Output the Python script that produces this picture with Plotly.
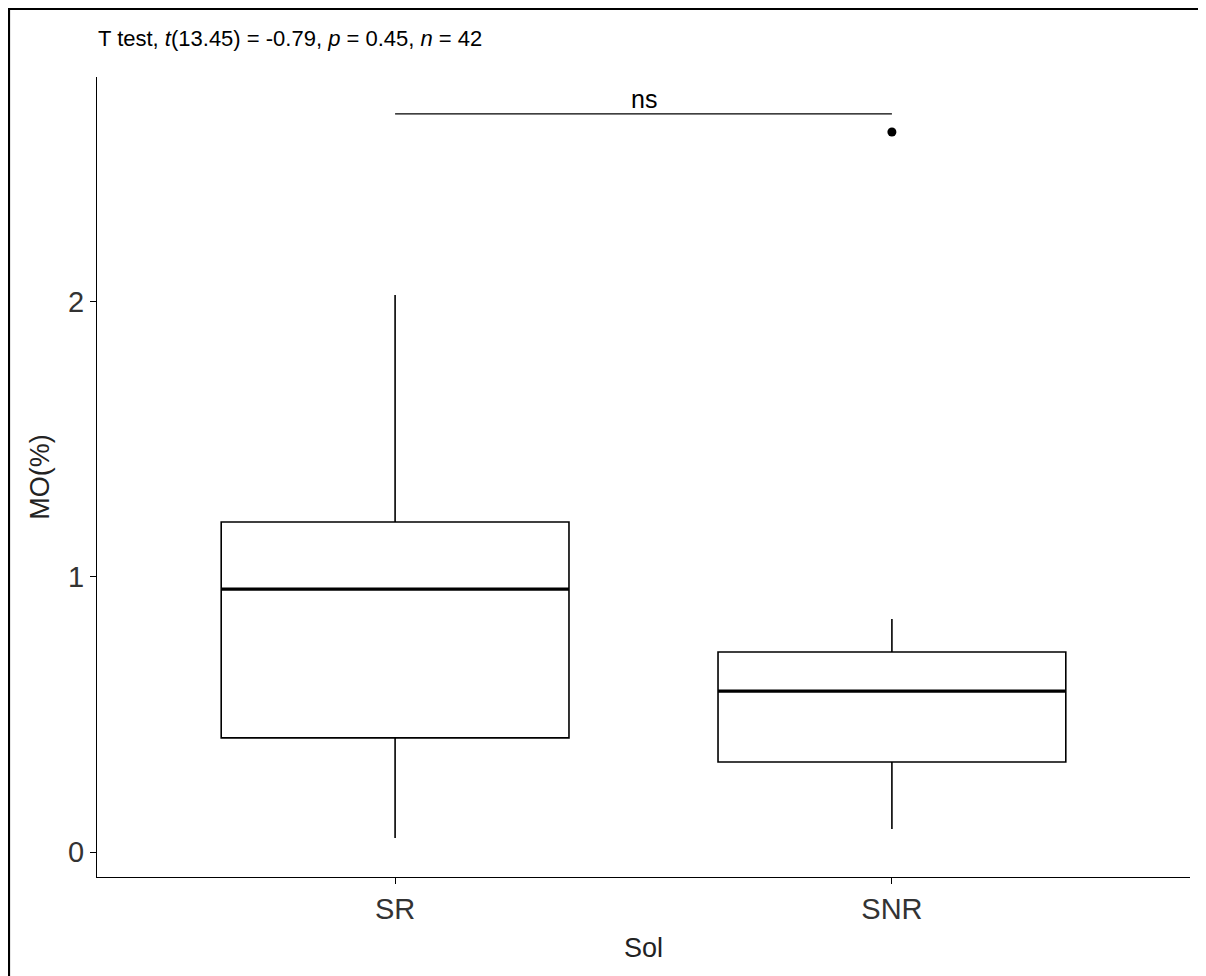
import plotly.graph_objects as go

# Data
groups = ["SR", "SNR"]
group_pos = [0, 1]
lower_whisker = [0.051, 0.084]
q1 = [0.415, 0.327]
median = [0.956, 0.585]
q3 = [1.20, 0.727]
upper_whisker = [2.025, 0.847]
outlier_group = [1]
outlier_values = [2.618]
bracket_y = 2.684
bracket_label = "ns"
subtitle = "T test, <i>t</i>(13.45) = -0.79, <i>p</i> = 0.45, <i>n</i> = 42"
y_ticks = [0, 1, 2]

BOX_W = 0.7
FONT = "Liberation Sans, Arial, sans-serif"

# page has an 8px body margin, so the figure is a bit smaller than the window
FW, FH = 1198, 968
L, R, T, B = 89, 16, 69, 99
PW, PH = FW - L - R, FH - T - B
OFF = 8
def px(xp):
    return (xp - OFF - L) / PW
def py(yp):
    return (FH - B - (yp - OFF)) / PH

fig = go.Figure()

for i, g in enumerate(groups):
    fig.add_trace(go.Box(
        x=[group_pos[i]], q1=[q1[i]], median=[median[i]], q3=[q3[i]],
        lowerfence=[lower_whisker[i]], upperfence=[upper_whisker[i]],
        width=BOX_W, whiskerwidth=0, boxpoints=False,
        fillcolor="white", line=dict(color="black", width=1.6),
        name=g, showlegend=False, hoverinfo="skip",
    ))
    # thicker median line like ggplot
    fig.add_trace(go.Scatter(
        x=[group_pos[i] - BOX_W / 2, group_pos[i] + BOX_W / 2],
        y=[median[i], median[i]], mode="lines",
        line=dict(color="black", width=3.2), showlegend=False, hoverinfo="skip",
    ))

fig.add_trace(go.Scatter(
    x=outlier_group, y=outlier_values, mode="markers",
    marker=dict(color="black", size=9), showlegend=False, hoverinfo="skip",
))

# significance bracket
fig.add_trace(go.Scatter(
    x=[group_pos[0], group_pos[1]], y=[bracket_y, bracket_y], mode="lines",
    line=dict(color="black", width=1.3), showlegend=False, hoverinfo="skip",
))
fig.add_annotation(
    x=(group_pos[0] + group_pos[1]) / 2, y=bracket_y, text=bracket_label,
    showarrow=False, yanchor="bottom", yshift=-1,
    font=dict(family=FONT, size=25, color="black"),
)

# subtitle
fig.add_annotation(
    xref="paper", yref="paper", x=px(96), y=py(39), xanchor="left", yanchor="middle",
    text=subtitle, showarrow=False,
    font=dict(family=FONT, size=22, color="black"),
)

# outer frame (left + top border of the image)
fig.add_shape(type="line", xref="paper", yref="paper",
              x0=px(9), x1=px(9), y0=py(8), y1=py(990),
              line=dict(color="black", width=2.2))
fig.add_shape(type="line", xref="paper", yref="paper",
              x0=px(8), x1=px(1220), y0=py(9), y1=py(9),
              line=dict(color="black", width=2.2))

fig.update_layout(
    width=FW, height=FH,
    margin=dict(l=L, r=R, t=T, b=B),
    paper_bgcolor="white", plot_bgcolor="white",
    font=dict(family=FONT, color="black"),
    xaxis=dict(
        range=[-0.6, 1.6], tickvals=group_pos, ticktext=groups,
        showline=True, linecolor="black", linewidth=1.3,
        ticks="outside", ticklen=6, tickcolor="black", tickwidth=1.2,
        showgrid=False, zeroline=False,
        tickfont=dict(family=FONT, size=29, color="#333333"),
        title=dict(text="Sol", font=dict(family=FONT, size=27, color="#222222"), standoff=14),
    ),
    yaxis=dict(
        range=[-0.0909, 2.818], tickvals=y_ticks,
        showline=True, linecolor="black", linewidth=1.3,
        ticks="outside", ticklen=6, tickcolor="black", tickwidth=1.2,
        showgrid=False, zeroline=False,
        tickfont=dict(family=FONT, size=29, color="#333333"),
        title=dict(text="MO(%)", font=dict(family=FONT, size=27, color="#222222"), standoff=10),
    ),
)

fig.write_html("out.html")
